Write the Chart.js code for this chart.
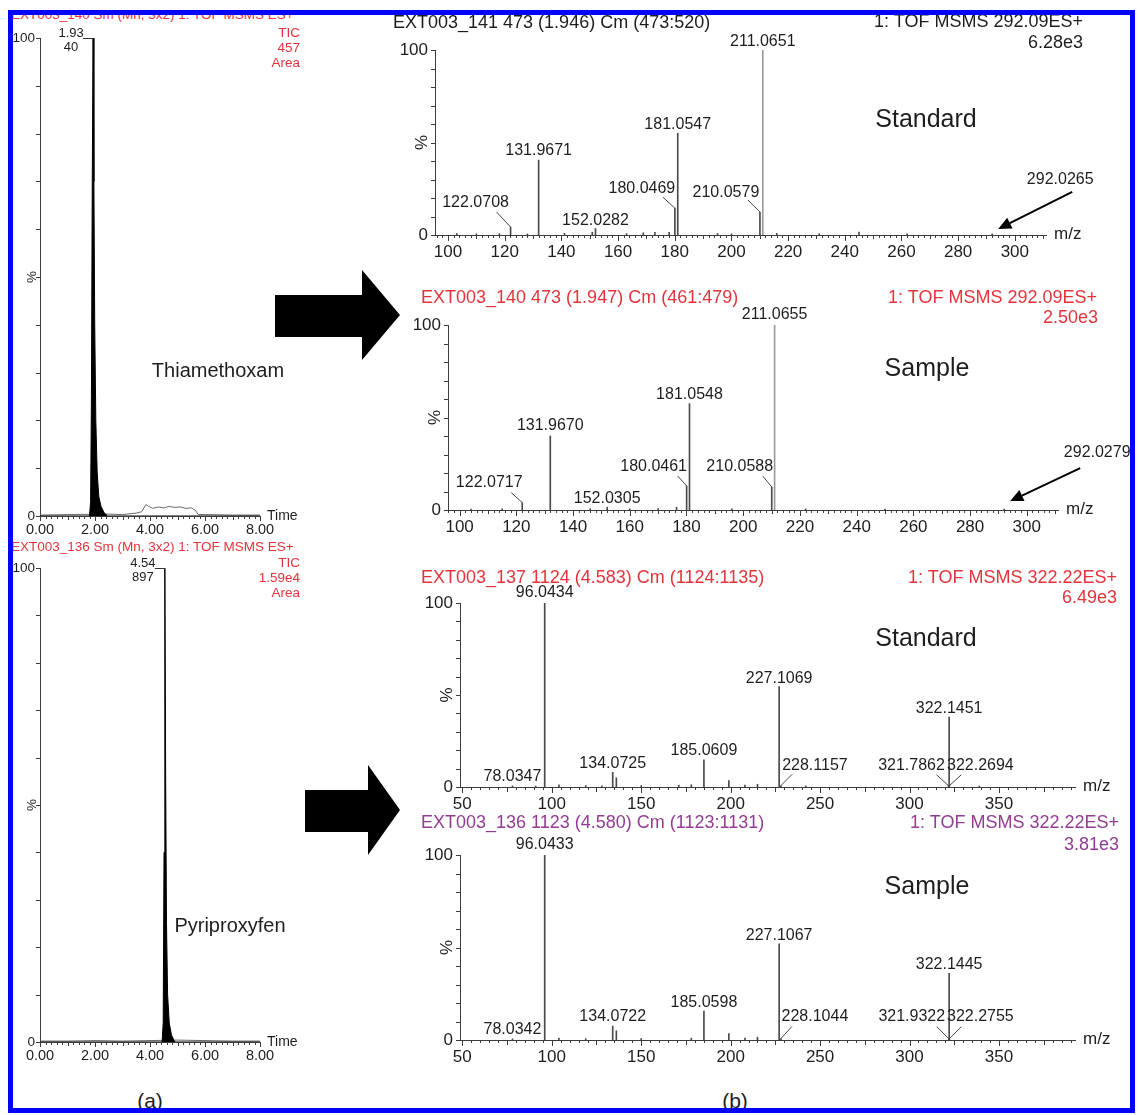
<!DOCTYPE html>
<html><head><meta charset="utf-8">
<script src="https://cdn.jsdelivr.net/npm/chart.js@4.4.1/dist/chart.umd.min.js"></script>
<style>
html,body{margin:0;padding:0;background:#fff;}
#stage{position:relative;width:1140px;height:1115px;overflow:hidden;background:#fff;font-family:"Liberation Sans",Arial,Helvetica,sans-serif;}
#stage canvas{position:absolute;}
.t{position:absolute;white-space:nowrap;line-height:1;}
#deco,#frame{position:absolute;left:0;top:0;}
#frame{z-index:10;}
</style></head><body>
<div id="stage">
<svg id="deco" width="1140" height="1115">
  <polygon points="275,295 362,295 362,270 400,315 362,360 362,337 275,337" fill="#000"/>
  <polygon points="305,790 368,790 368,765 400,810 368,855 368,832 305,832" fill="#000"/>
</svg>
<svg id="frame" width="1140" height="1115"><rect x="10.5" y="12.5" width="1122" height="1098" fill="none" stroke="#0000ff" stroke-width="5"/></svg>
</div>
<script>
// ================= DATA =================
// (a) total ion chromatograms (time in min, % intensity)
const thiaTime  = [0, 1.80, 1.84, 1.87, 1.90, 1.93, 1.96, 1.99, 2.03, 2.08, 2.14, 2.22, 2.32, 2.45, 8.0];
const thiaTic   = [0, 0, 3, 25, 70, 100, 70, 40, 20, 9, 4, 2, 0.8, 0, 0];
const thiaNoiseTime = [0, 1.0, 2.5, 3.0, 3.5, 3.7, 3.85, 3.95, 4.1, 4.3, 4.5, 4.7, 4.9, 5.1, 5.3, 5.5, 5.65, 5.75, 6.0, 7.0, 8.0];
const thiaNoiseTic  = [0.2, 0.3, 0.4, 0.3, 0.6, 0.9, 2.4, 2.0, 1.6, 1.9, 1.7, 2.0, 1.8, 1.9, 1.6, 1.7, 1.2, 0.3, 0.3, 0.2, 0.2];
const pyriTime  = [0, 4.44, 4.48, 4.51, 4.54, 4.57, 4.60, 4.64, 4.70, 4.78, 4.90, 8.0];
const pyriTic   = [0, 0, 4, 40, 100, 55, 25, 10, 4, 1.5, 0, 0];
const pyriNoiseTime = [0, 1.0, 2.0, 3.0, 4.0, 5.0, 6.0, 7.0, 8.0];
const pyriNoiseTic  = [0.2, 0.2, 0.3, 0.2, 0.3, 0.4, 0.3, 0.2, 0.2];
const thiaPeak = [1.93, 40];
const pyriPeak = [4.54, 897];
const timeTicks = [0, 2, 4, 6, 8];
const pctTicks = [0, 100];

// (b) MS/MS spectra (m/z, % relative intensity)
const thiaStdMz  = [103.1, 110.0, 118.1, 122.0708, 128.0, 131.9671, 141.1, 150.9, 152.0282, 163.0, 168.9, 173.0, 178.0, 180.0469, 181.0547, 195.1, 200.0, 210.0579, 211.0651, 216.0, 231.0, 245.0, 262.0, 292.0265];
const thiaStdInt = [0.8, 0.6, 0.7, 4.3, 0.6, 40.5, 0.9, 1.5, 3.5, 0.7, 1.2, 1.5, 1.4, 14.5, 55.0, 0.8, 0.6, 12.4, 100, 0.9, 0.7, 1.6, 0.6, 0.6];
const thiaStdLabelled = [122.0708, 131.9671, 152.0282, 180.0469, 181.0547, 210.0579, 211.0651, 292.0265];

const thiaSmpMz  = [104.0, 115.0, 122.0717, 131.9670, 146.0, 152.0305, 160.0, 170.0, 176.5, 180.0461, 181.0548, 196.0, 210.0588, 211.0655, 222.0, 250.0, 292.0279];
const thiaSmpInt = [0.5, 0.6, 4.0, 40.0, 0.7, 1.5, 0.6, 0.8, 1.5, 13.0, 57.5, 0.6, 12.4, 100, 0.6, 0.5, 0.5];
const thiaSmpLabelled = [122.0717, 131.9670, 152.0305, 180.0461, 181.0548, 210.0588, 211.0655, 292.0279];

const pyriStdMz  = [78.0347, 91.0, 96.0434, 104.0, 119.0, 128.0, 134.0725, 136.1, 150.0, 171.0, 178.0, 185.0609, 199.0, 208.0, 215.0, 227.1069, 228.1157, 242.0, 321.7862, 322.1451, 322.2694, 339.0];
const pyriStdInt = [0.6, 0.5, 100, 1.2, 0.8, 0.6, 8.0, 5.0, 0.8, 1.0, 1.2, 14.7, 3.5, 1.0, 1.5, 54.6, 0.8, 0.6, 0.7, 38.0, 0.7, 0.5];
const pyriStdLabelled = [78.0347, 96.0434, 134.0725, 185.0609, 227.1069, 228.1157, 321.7862, 322.1451, 322.2694];

const pyriSmpMz  = [78.0342, 96.0433, 104.0, 119.0, 134.0722, 136.1, 150.0, 178.0, 185.0598, 199.0, 208.0, 215.0, 227.1067, 228.1044, 321.9322, 322.1445, 322.2755];
const pyriSmpInt = [0.6, 100, 1.0, 0.7, 7.5, 5.0, 0.8, 1.0, 15.7, 3.5, 1.0, 1.5, 52.0, 0.8, 0.7, 36.0, 0.7];
const pyriSmpLabelled = [78.0342, 96.0433, 134.0722, 185.0598, 227.1067, 228.1044, 321.9322, 322.1445, 322.2755];

const thiaMzTicks = [100, 120, 140, 160, 180, 200, 220, 240, 260, 280, 300];
const pyriMzTicks = [50, 100, 150, 200, 250, 300, 350];

// ================= LAYOUT / STYLE =================
const FONT = '"Liberation Sans", Arial, Helvetica, sans-serif';
const INK = '#1e1e1e', AXIS = '#3c3c3c', RED = '#e3343c', PURPLE = '#933c93';

const layThiaStd = {
  '122.0708': {dx:-35, dy:-24, lead:[-14,-15]},
  '131.9671': {dy:-9}, '152.0282': {dy:-8},
  '180.0469': {dx:-33, dy:-20, lead:[-12,-11]},
  '181.0547': {dy:-9},
  '210.0579': {dx:-34, dy:-19, lead:[-12,-12]},
  '211.0651': {dy:-8},
  '292.0265': {dx:68, dy:-54, arrow:[80,-42,6,-5]}
};
const layThiaSmp = {
  '122.0717': {dx:-33, dy:-20, lead:[-11,-10]},
  '131.9670': {dy:-10}, '152.0305': {dy:-9},
  '180.0461': {dx:-33, dy:-19, lead:[-9,-10]},
  '181.0548': {dy:-9},
  '210.0588': {dx:-32, dy:-20, lead:[-9,-11]},
  '211.0655': {dy:-10},
  '292.0279': {dx:93, dy:-56, arrow:[76,-41,6,-8]}
};
const layPyriStd = {
  '78.0347': {dy:-9}, '96.0434': {dy:-10}, '134.0725': {dy:-9}, '185.0609': {dy:-9},
  '227.1069': {dy:-8}, '322.1451': {dy:-8},
  '228.1157': {dx:34, dy:-20, lead:[11,-11]},
  '321.7862': {dx:-37, dy:-20, lead:[-12,-11]},
  '322.2694': {dx:31, dy:-20, lead:[12,-11]}
};
const layPyriSmp = {
  '78.0342': {dy:-9}, '96.0433': {dy:-10}, '134.0722': {dy:-10}, '185.0598': {dy:-8},
  '227.1067': {dy:-8}, '322.1445': {dy:-9},
  '228.1044': {dx:34, dy:-22, lead:[11,-12]},
  '321.9322': {dx:-37, dy:-22, lead:[-12,-12]},
  '322.2755': {dx:31, dy:-22, lead:[12,-12]}
};

const stage = document.getElementById('stage');

function text(str, x, y, align, size, color) {
  const d = document.createElement('div');
  d.className = 't';
  d.textContent = str;
  d.style.left = x + 'px'; d.style.top = y + 'px';
  d.style.fontSize = size + 'px'; d.style.color = color;
  const tx = align === 'r' ? '-100%' : align === 'c' ? '-50%' : '0';
  d.style.transform = 'translate(' + tx + ',-50%)';
  stage.appendChild(d);
}

function mkCanvas(box) {
  const c = document.createElement('canvas');
  c.width = box.w; c.height = box.h;
  Object.assign(c.style, {left: box.x + 'px', top: box.y + 'px', width: box.w + 'px', height: box.h + 'px'});
  stage.insertBefore(c, document.getElementById('frame'));
  return c;
}

function axisMarks(o) {
  return { id: 'axisMarks', afterDraw(chart) {
    const {ctx, chartArea: a} = chart, xs = chart.scales.x, ys = chart.scales.y;
    ctx.save();
    ctx.strokeStyle = AXIS; ctx.lineWidth = 1;
    ctx.beginPath();
    const [mi, md, mj] = o.xSteps;
    const isM = (v, s) => Math.abs(v / s - Math.round(v / s)) < 1e-6;
    for (let n = Math.ceil(xs.min / mi - 1e-9); n * mi <= xs.max + 1e-9; n++) {
      const v = n * mi;
      const px = Math.round(xs.getPixelForValue(v)) + 0.5;
      const len = isM(v, mj) ? o.xLen[2] : isM(v, md) ? o.xLen[1] : o.xLen[0];
      ctx.moveTo(px, a.bottom); ctx.lineTo(px, a.bottom + len);
    }
    for (let v = 0; v <= 100; v += 10) {
      const py = Math.round(ys.getPixelForValue(v)) + 0.5;
      ctx.moveTo(a.left, py); ctx.lineTo(a.left - o.yLen, py);
    }
    ctx.stroke();
    ctx.fillStyle = INK; ctx.font = o.unitSize + 'px ' + FONT;
    ctx.textAlign = 'left'; ctx.textBaseline = 'middle';
    ctx.fillText(o.unit, a.right + o.unitGap, a.bottom + o.unitDy);
    ctx.restore();
  }};
}

function peakLabels(items, lay, size) {
  return { id: 'peakLabels', afterDatasetsDraw(chart) {
    const ctx = chart.ctx, xs = chart.scales.x, ys = chart.scales.y;
    ctx.save();
    ctx.font = size + 'px ' + FONT; ctx.fillStyle = INK;
    ctx.textAlign = 'center'; ctx.textBaseline = 'middle';
    ctx.strokeStyle = '#444'; ctx.lineWidth = 1;
    items.forEach(it => {
      const px = xs.getPixelForValue(it.x), py = ys.getPixelForValue(it.y);
      const L = lay[it.text] || {};
      const dx = L.dx !== undefined ? L.dx : 0, dy = L.dy !== undefined ? L.dy : -9;
      ctx.fillText(it.text, px + dx, py + dy);
      if (L.lead) {
        ctx.beginPath(); ctx.moveTo(px + L.lead[0], py + L.lead[1]); ctx.lineTo(px, py); ctx.stroke();
      }
      if (L.arrow) {
        const [x1, y1, x2, y2] = [px + L.arrow[0], py + L.arrow[1], px + L.arrow[2], py + L.arrow[3]];
        ctx.save(); ctx.strokeStyle = '#000'; ctx.fillStyle = '#000'; ctx.lineWidth = 2;
        const ang = Math.atan2(y2 - y1, x2 - x1), hl = 13, hw = 6;
        const bx = x2 - hl * Math.cos(ang), by = y2 - hl * Math.sin(ang);
        ctx.beginPath(); ctx.moveTo(x1, y1); ctx.lineTo(bx, by); ctx.stroke();
        ctx.beginPath(); ctx.moveTo(x2, y2);
        ctx.lineTo(bx + hw * Math.sin(ang), by - hw * Math.cos(ang));
        ctx.lineTo(bx - hw * Math.sin(ang), by + hw * Math.cos(ang));
        ctx.closePath(); ctx.fill();
        ctx.restore();
      }
    });
    ctx.restore();
  }};
}

function rtLabel(peak, size) {
  return { id: 'rtLabel', afterDatasetsDraw(chart) {
    const ctx = chart.ctx, xs = chart.scales.x, ys = chart.scales.y;
    const px = xs.getPixelForValue(peak[0]), py = ys.getPixelForValue(100);
    ctx.save();
    ctx.font = size + 'px ' + FONT; ctx.fillStyle = INK;
    ctx.textAlign = 'center'; ctx.textBaseline = 'middle';
    ctx.fillText(peak[0].toFixed(2), px - 22, py - 5);
    ctx.fillText(String(peak[1]), px - 22, py + 9);
    ctx.strokeStyle = '#333'; ctx.lineWidth = 1;
    ctx.beginPath(); ctx.moveTo(px - 10, Math.round(py) + 0.5); ctx.lineTo(px, Math.round(py) + 0.5); ctx.stroke();
    ctx.restore();
  }};
}

function scalesFor(box, area, xr, xTicks, xFmt, f) {
  return {
    x: { type: 'linear', min: xr[0], max: xr[1], offset: false,
      grid: {display: false, drawTicks: false}, border: {display: true, color: AXIS, width: 1},
      ticks: {autoSkip: false, maxRotation: 0, minRotation: 0, padding: f.xPad, color: INK,
              font: {family: FONT, size: f.x}, callback: v => xFmt(v)},
      afterBuildTicks: s => { s.ticks = xTicks.map(v => ({value: v})); },
      afterFit: s => { s.height = box.y + box.h - area.b; } },
    y: { type: 'linear', min: 0, max: 100,
      grid: {display: false, drawTicks: false}, border: {display: true, color: AXIS, width: 1},
      ticks: {padding: f.yPad, color: INK, font: {family: FONT, size: f.y}, callback: v => String(v)},
      afterBuildTicks: s => { s.ticks = pctTicks.map(v => ({value: v})); },
      afterFit: s => { s.width = area.l - box.x; },
      title: {display: true, text: '%', color: INK, font: {family: FONT, size: f.y},
              padding: {top: f.titleX - f.y * 0.6, bottom: 0}} }
  };
}

function baseOptions(box, area) {
  return {
    responsive: false, animation: false, events: [],
    layout: {padding: {left: 0, top: area.t - box.y, right: box.x + box.w - area.r, bottom: 0}},
    plugins: {legend: {display: false}, tooltip: {enabled: false}, title: {display: false}}
  };
}

function spectrum(box, area, xr, mz, inten, labelled, xTicks, steps, lens, lay, baseColor) {
  const cv = mkCanvas(box);
  const opts = baseOptions(box, area);
  opts.scales = scalesFor(box, area, xr, xTicks, v => String(v), {x: 17, y: 17, xPad: 7, yPad: 7, titleX: area.l - box.x - 13});
  const items = labelled.map(m => ({x: m, y: inten[mz.indexOf(m)], text: m.toFixed(4)}));
  new Chart(cv, {
    type: 'bar',
    data: {datasets: [{
      data: mz.map((m, i) => ({x: m, y: inten[i]})),
      backgroundColor: c => (c.raw && c.raw.y >= 100) ? baseColor : '#4a4a4a',
      borderWidth: 0, barThickness: 1, grouped: false
    }]},
    options: opts,
    plugins: [axisMarks({xSteps: steps, xLen: lens, yLen: 4, unit: 'm/z', unitSize: 17, unitGap: 8, unitDy: -1}),
              peakLabels(items, lay, 16)]
  });
}

function chrom(box, area, tt, ii, nt, ni, peak) {
  const cv = mkCanvas(box);
  const opts = baseOptions(box, area);
  opts.scales = scalesFor(box, area, [0, 8], timeTicks, v => v.toFixed(2), {x: 14.5, y: 13.5, xPad: 5, yPad: 5, titleX: 32});
  new Chart(cv, {
    type: 'line',
    data: {datasets: [
      {data: tt.map((t, i) => ({x: t, y: ii[i]})), borderColor: '#000', backgroundColor: '#000',
       borderWidth: 1, pointRadius: 0, fill: 'origin', tension: 0},
      {data: nt.map((t, i) => ({x: t, y: ni[i]})), borderColor: '#6a6a6a',
       borderWidth: 1, pointRadius: 0, fill: false, tension: 0}
    ]},
    options: opts,
    plugins: [axisMarks({xSteps: [0.2, 1, 2], xLen: [3, 4, 5], yLen: 4, unit: 'Time', unitSize: 14, unitGap: 7, unitDy: 0}),
              rtLabel(peak, 13)]
  });
}

// ----- (a) chromatograms -----
chrom({x: 0, y: 25, w: 320, h: 525}, {l: 40, t: 38, r: 260, b: 516}, thiaTime, thiaTic, thiaNoiseTime, thiaNoiseTic, thiaPeak);
chrom({x: 0, y: 555, w: 320, h: 520}, {l: 40, t: 568, r: 260, b: 1042}, pyriTime, pyriTic, pyriNoiseTime, pyriNoiseTic, pyriPeak);

// ----- (b) spectra -----
spectrum({x: 385, y: 28, w: 720, h: 242}, {l: 435, t: 50, r: 1046, b: 235}, [95.4, 311], thiaStdMz, thiaStdInt, thiaStdLabelled, thiaMzTicks, [2, 10, 20], [3, 4, 6], layThiaStd, '#9a9a9a');
spectrum({x: 398, y: 305, w: 742, h: 240}, {l: 448, t: 325, r: 1058, b: 510}, [95.9, 311], thiaSmpMz, thiaSmpInt, thiaSmpLabelled, thiaMzTicks, [2, 10, 20], [3, 4, 6], layThiaSmp, '#9a9a9a');
spectrum({x: 410, y: 583, w: 720, h: 239}, {l: 460, t: 603, r: 1075, b: 787}, [48.7, 392.5], pyriStdMz, pyriStdInt, pyriStdLabelled, pyriMzTicks, [5, 25, 50], [3, 5, 6], layPyriStd, '#4a4a4a');
spectrum({x: 410, y: 835, w: 720, h: 240}, {l: 460, t: 855, r: 1075, b: 1040}, [48.7, 392.5], pyriSmpMz, pyriSmpInt, pyriSmpLabelled, pyriMzTicks, [5, 25, 50], [3, 5, 6], layPyriSmp, '#4a4a4a');

// ----- texts -----
text('EXT003_140 Sm (Mn, 3x2) 1: TOF MSMS ES+', 11, 15, 'l', 13.5, RED);
text('TIC', 300, 33, 'r', 13.5, RED); text('457', 300, 48, 'r', 13.5, RED); text('Area', 300, 63, 'r', 13.5, RED);
text('Thiamethoxam', 218, 370, 'c', 20, INK);
text('EXT003_136 Sm (Mn, 3x2) 1: TOF MSMS ES+', 11, 547, 'l', 13.5, RED);
text('TIC', 300, 563, 'r', 13.5, RED); text('1.59e4', 300, 578, 'r', 13.5, RED); text('Area', 300, 593, 'r', 13.5, RED);
text('Pyriproxyfen', 230, 925, 'c', 20, INK);
text('(a)', 150, 1100, 'c', 21, INK); text('(b)', 735, 1100, 'c', 21, INK);

text('EXT003_141 473 (1.946) Cm (473:520)', 393, 22, 'l', 18, INK);
text('1: TOF MSMS 292.09ES+', 1083, 21, 'r', 18, INK); text('6.28e3', 1083, 42, 'r', 18, INK);
text('Standard', 926, 118, 'c', 25, INK);

text('EXT003_140 473 (1.947) Cm (461:479)', 421, 297, 'l', 18, RED);
text('1: TOF MSMS 292.09ES+', 1097, 297, 'r', 18, RED); text('2.50e3', 1098, 317, 'r', 18, RED);
text('Sample', 927, 367, 'c', 25, INK);

text('EXT003_137 1124 (4.583) Cm (1124:1135)', 421, 577, 'l', 18, RED);
text('1: TOF MSMS 322.22ES+', 1117, 577, 'r', 18, RED); text('6.49e3', 1117, 597, 'r', 18, RED);
text('Standard', 926, 637, 'c', 25, INK);

text('EXT003_136 1123 (4.580) Cm (1123:1131)', 421, 822, 'l', 18, PURPLE);
text('1: TOF MSMS 322.22ES+', 1119, 822, 'r', 18, PURPLE); text('3.81e3', 1119, 844, 'r', 18, PURPLE);
text('Sample', 927, 885, 'c', 25, INK);
</script>
</body></html>
